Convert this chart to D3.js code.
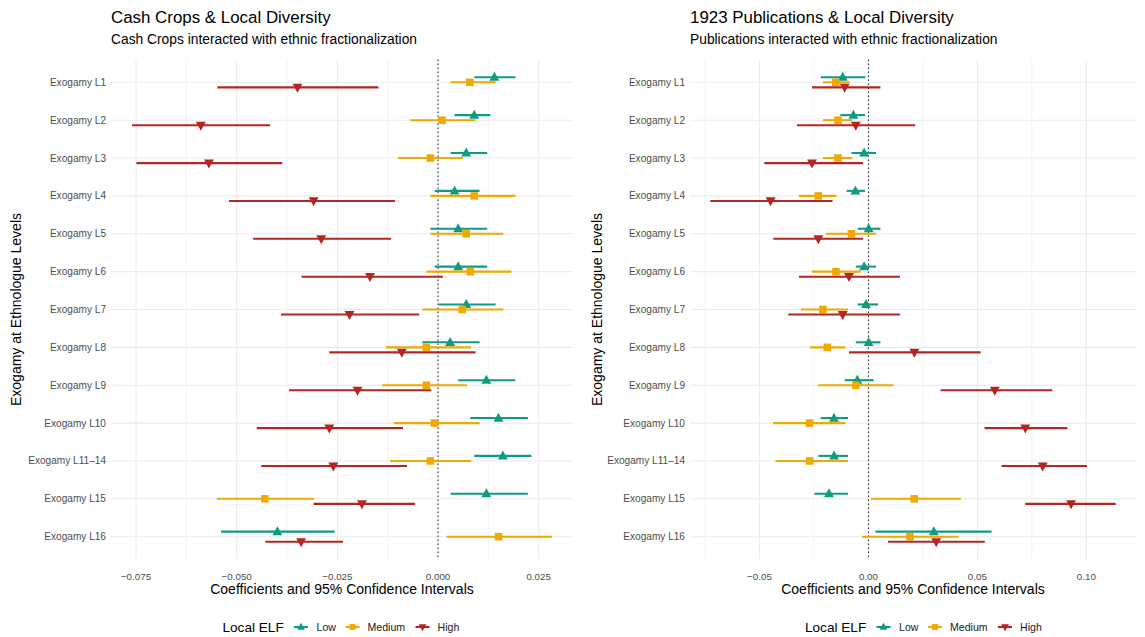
<!DOCTYPE html>
<html>
<head>
<meta charset="utf-8">
<script src="https://cdn.jsdelivr.net/npm/d3@7"></script>
<style>
  body { margin: 0; background: #fff; }
  svg { font-family: "Liberation Sans", Arial, sans-serif; }
</style>
</head>
<body>
<div id="chart"></div>
<script>
// rows of the plot, top to bottom
const levels = ["Exogamy L1", "Exogamy L2", "Exogamy L3", "Exogamy L4", "Exogamy L5",
  "Exogamy L6", "Exogamy L7", "Exogamy L8", "Exogamy L9", "Exogamy L10",
  "Exogamy L11\u201314", "Exogamy L15", "Exogamy L16"];

const groups = ["Low", "Medium", "High"];

// [estimate, lower, upper] per level
const cashLow = [
  [0.0140, 0.0090, 0.0192], [0.0090, 0.0041, 0.0130], [0.0070, 0.0031, 0.0122],
  [0.0041, -0.0008, 0.0103], [0.0050, -0.0019, 0.0122], [0.0050, -0.0008, 0.0122],
  [0.0070, 0.0002, 0.0143], [0.0030, -0.0039, 0.0103], [0.0120, 0.0050, 0.0192],
  [0.0150, 0.0080, 0.0223], [0.0161, 0.0090, 0.0232], [0.0120, 0.0031, 0.0223],
  [-0.0399, -0.0539, -0.0257]
];
const cashMed = [
  [0.0079, 0.0031, 0.0143], [0.0010, -0.0069, 0.0093], [-0.0019, -0.0100, 0.0062],
  [0.0090, -0.0019, 0.0192], [0.0070, -0.0019, 0.0162], [0.0080, -0.0029, 0.0182],
  [0.0060, -0.0039, 0.0162], [-0.0029, -0.0129, 0.0082], [-0.0029, -0.0139, 0.0072],
  [-0.0009, -0.0109, 0.0103], [-0.0019, -0.0119, 0.0082], [-0.0430, -0.0549, -0.0308],
  [0.0150, 0.0021, 0.0283]
];
const cashHigh = [
  [-0.0349, -0.0548, -0.0148], [-0.0589, -0.0760, -0.0417], [-0.0569, -0.0749, -0.0387],
  [-0.0309, -0.0519, -0.0107], [-0.0290, -0.0459, -0.0117], [-0.0169, -0.0339, 0.0012],
  [-0.0220, -0.0390, -0.0047], [-0.0090, -0.0270, 0.0093], [-0.0200, -0.0370, -0.0017],
  [-0.0270, -0.0450, -0.0087], [-0.0260, -0.0439, -0.0077], [-0.0189, -0.0309, -0.0057],
  [-0.0340, -0.0429, -0.0236]
];

const pubLow = [
  [-0.0118, -0.0219, -0.0014], [-0.0069, -0.0129, -0.0016], [-0.0020, -0.0078, 0.0035],
  [-0.0060, -0.0100, -0.0016], [0.0001, -0.0049, 0.0055], [-0.0020, -0.0058, 0.0035],
  [-0.0011, -0.0049, 0.0044], [0.0001, -0.0058, 0.0055], [-0.0051, -0.0109, 0.0024],
  [-0.0158, -0.0219, -0.0094], [-0.0158, -0.0230, -0.0094], [-0.0181, -0.0248, -0.0094],
  [0.0300, 0.0032, 0.0565]
];
const pubMed = [
  [-0.0150, -0.0209, -0.0086], [-0.0140, -0.0209, -0.0075], [-0.0140, -0.0209, -0.0075],
  [-0.0230, -0.0319, -0.0147], [-0.0078, -0.0196, 0.0035], [-0.0149, -0.0259, -0.0035],
  [-0.0209, -0.0310, -0.0094], [-0.0189, -0.0268, -0.0106], [-0.0058, -0.0230, 0.0115],
  [-0.0270, -0.0437, -0.0106], [-0.0270, -0.0427, -0.0094], [0.0210, 0.0011, 0.0424],
  [0.0191, -0.0029, 0.0414]
];
const pubHigh = [
  [-0.0109, -0.0259, 0.0055], [-0.0058, -0.0328, 0.0214], [-0.0259, -0.0478, -0.0025],
  [-0.0449, -0.0726, -0.0165], [-0.0230, -0.0437, -0.0025], [-0.0089, -0.0319, 0.0145],
  [-0.0118, -0.0368, 0.0145], [0.0211, -0.0089, 0.0515], [0.0580, 0.0331, 0.0844],
  [0.0720, 0.0533, 0.0913], [0.0800, 0.0611, 0.1003], [0.0930, 0.0720, 0.1135],
  [0.0311, 0.0090, 0.0534]
];

const cashTicks = [-0.075, -0.05, -0.025, 0, 0.025];
const pubTicks = [-0.05, 0, 0.05, 0.10];

const colors = { Low: "#0F9A84", Medium: "#EFA900", High: "#B22623" };
const textGrey = "#4d4d4d";
const gridCol = "#ebebeb";

const W = 1145, H = 637;
const svg = d3.select("#chart").append("svg")
  .attr("width", W).attr("height", H);

// marker shapes (triangle up, square, triangle down)
function markerPath(group, s) {
  if (group === "Low") return `M0,${-s * 0.6}L${s * 0.55},${s * 0.4}L${-s * 0.55},${s * 0.4}Z`;
  if (group === "High") return `M0,${s * 0.6}L${s * 0.55},${-s * 0.4}L${-s * 0.55},${-s * 0.4}Z`;
  const h = s * 0.42;
  return `M${-h},${-h}L${h},${-h}L${h},${h}L${-h},${h}Z`;
}

function drawPanel(opts) {
  const g = svg.append("g");
  const all = opts.series.flatMap(s => s.flatMap(d => [d[1], d[2]]));
  const lo = d3.min(all), hi = d3.max(all), pad = (hi - lo) * 0.05;

  const x = d3.scaleLinear().domain([lo - pad, hi + pad]).range([opts.left, opts.right]);
  const y = d3.scalePoint().domain(levels).range([59.6, 559.4]).padding(0.6);
  const dodge = y.step() * 0.4 / 3;

  // minor grid at tick midpoints
  const step = opts.ticks[1] - opts.ticks[0];
  const minor = d3.range(opts.ticks[0] - step / 2, hi + pad + step, step)
    .filter(v => v > lo - pad && v < hi + pad);
  g.selectAll(".minor").data(minor).enter().append("line")
    .attr("x1", d => x(d)).attr("x2", d => x(d))
    .attr("y1", 59.6).attr("y2", 559.4)
    .attr("stroke", gridCol).attr("stroke-width", 0.6);

  g.selectAll(".major").data(opts.ticks).enter().append("line")
    .attr("x1", d => x(d)).attr("x2", d => x(d))
    .attr("y1", 59.6).attr("y2", 559.4)
    .attr("stroke", gridCol).attr("stroke-width", 1.1);

  g.selectAll(".hgrid").data(levels).enter().append("line")
    .attr("x1", opts.left).attr("x2", opts.right)
    .attr("y1", d => y(d)).attr("y2", d => y(d))
    .attr("stroke", gridCol).attr("stroke-width", 1.1);

  // zero reference line
  g.append("line")
    .attr("x1", x(0)).attr("x2", x(0))
    .attr("y1", 59.6).attr("y2", 559.4)
    .attr("stroke", "#333").attr("stroke-width", 1.1)
    .attr("stroke-dasharray", "1.5,2.5");

  // y tick labels
  g.selectAll(".ylab").data(levels).enter().append("text")
    .attr("x", opts.left - 5).attr("y", d => y(d) + 3.5)
    .attr("text-anchor", "end")
    .style("font-size", "10.1px").attr("fill", textGrey)
    .text(d => d);

  // x tick labels
  g.selectAll(".xlab").data(opts.ticks).enter().append("text")
    .attr("x", d => x(d)).attr("y", 579.5)
    .attr("text-anchor", "middle")
    .style("font-size", "9.8px").attr("fill", textGrey)
    .text(d => d3.format(opts.fmt)(d).replace("-", "\u2212"));

  // intervals + points
  opts.series.forEach((s, gi) => {
    const grp = groups[gi];
    const off = (gi - 1) * dodge;
    const gg = g.append("g");
    gg.selectAll("line").data(s).enter().append("line")
      .attr("x1", d => x(d[1])).attr("x2", d => x(d[2]))
      .attr("y1", (d, i) => y(levels[i]) + off).attr("y2", (d, i) => y(levels[i]) + off)
      .attr("stroke", colors[grp]).attr("stroke-width", 2.1);
    gg.selectAll("path").data(s).enter().append("path")
      .attr("transform", (d, i) => `translate(${x(d[0])},${y(levels[i]) + off})`)
      .attr("d", markerPath(grp, 9))
      .attr("fill", colors[grp]);
  });

  // titles
  g.append("text").attr("x", opts.left).attr("y", 23)
    .style("font-size", "16.9px").attr("fill", "#000").text(opts.title);
  g.append("text").attr("x", opts.left).attr("y", 44)
    .style("font-size", "13.8px").attr("fill", "#000").text(opts.subtitle);

  g.append("text")
    .attr("x", (opts.left + opts.right) / 2).attr("y", 594)
    .attr("text-anchor", "middle")
    .style("font-size", "14px").attr("fill", "#000")
    .text("Coefficients and 95% Confidence Intervals");

  g.append("text")
    .attr("transform", `translate(${opts.ytitleX},${(59.6 + 559.4) / 2}) rotate(-90)`)
    .attr("text-anchor", "middle")
    .style("font-size", "14px").attr("fill", "#000")
    .text("Exogamy at Ethnologue Levels");

  // legend
  const lg = g.append("g").attr("transform", `translate(${opts.legendX},627)`);
  lg.append("text").attr("x", 0).attr("y", 4.8)
    .style("font-size", "13.6px").attr("fill", "#000").text("Local ELF");
  const keyX = [78.5, 130, 200];
  const labX = [94, 145, 215];
  groups.forEach((grp, i) => {
    lg.append("line").attr("x1", keyX[i] - 7).attr("x2", keyX[i] + 7)
      .attr("y1", 0).attr("y2", 0)
      .attr("stroke", colors[grp]).attr("stroke-width", 2.1);
    lg.append("path").attr("transform", `translate(${keyX[i]},0)`)
      .attr("d", markerPath(grp, 7)).attr("fill", colors[grp]);
    lg.append("text").attr("x", labX[i]).attr("y", 3.8)
      .style("font-size", "10.6px").attr("fill", "#1a1a1a").text(grp);
  });
}

drawPanel({
  series: [cashLow, cashMed, cashHigh],
  ticks: cashTicks, fmt: ".3f",
  left: 111, right: 573,
  title: "Cash Crops & Local Diversity",
  subtitle: "Cash Crops interacted with ethnic fractionalization",
  ytitleX: 21, legendX: 222.5
});

drawPanel({
  series: [pubLow, pubMed, pubHigh],
  ticks: pubTicks, fmt: ".2f",
  left: 690, right: 1136,
  title: "1923 Publications & Local Diversity",
  subtitle: "Publications interacted with ethnic fractionalization",
  ytitleX: 602, legendX: 805
});
</script>
</body>
</html>
